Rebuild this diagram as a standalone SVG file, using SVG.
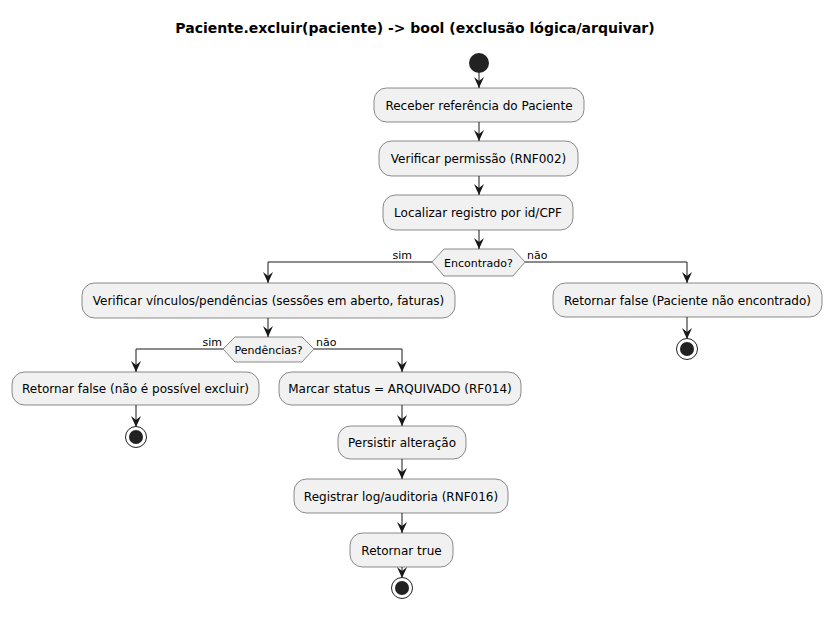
<svg xmlns="http://www.w3.org/2000/svg" width="831" height="619" viewBox="0 0 831 619">
<defs>
<style>
.box{fill:#F1F1F1;stroke:#181818;stroke-width:0.5}
.t{font-family:"DejaVu Sans",sans-serif;font-size:12px;fill:#000;text-anchor:middle}
.l{font-family:"DejaVu Sans",sans-serif;font-size:11px;fill:#000}
.ln{fill:none;stroke:#181818;stroke-width:1}
.title{font-family:"DejaVu Sans",sans-serif;font-size:14px;font-weight:bold;fill:#000;text-anchor:middle}
</style>
<marker id="arr" viewBox="0 0 11 10" refX="11" refY="5" markerWidth="11" markerHeight="10" markerUnits="userSpaceOnUse" orient="auto">
<polygon points="0,0 11,5 0,10 4,5" fill="#181818"/>
</marker>
</defs>
<rect width="831" height="619" fill="#FFFFFF"/>
<text class="title" x="415" y="33">Paciente.excluir(paciente) -&gt; bool (exclusão lógica/arquivar)</text>

<g id="connectors">
<path class="ln" d="M479,73 V88" marker-end="url(#arr)"/>
<path class="ln" d="M479,122 V141" marker-end="url(#arr)"/>
<path class="ln" d="M479,176 V195" marker-end="url(#arr)"/>
<path class="ln" d="M479,230 V249" marker-end="url(#arr)"/>
<path class="ln" d="M432,262 H268 V283" marker-end="url(#arr)"/>
<path class="ln" d="M525,262 H687 V283" marker-end="url(#arr)"/>
<path class="ln" d="M687,317 V339" marker-end="url(#arr)"/>
<path class="ln" d="M268,318 V337" marker-end="url(#arr)"/>
<path class="ln" d="M223,349 H136 V372" marker-end="url(#arr)"/>
<path class="ln" d="M314,349 H402 V372" marker-end="url(#arr)"/>
<path class="ln" d="M136,405 V427" marker-end="url(#arr)"/>
<path class="ln" d="M402,405 V426" marker-end="url(#arr)"/>
<path class="ln" d="M402,459 V479" marker-end="url(#arr)"/>
<path class="ln" d="M402,513 V533" marker-end="url(#arr)"/>
<path class="ln" d="M402,567 V578" marker-end="url(#arr)"/>
<text class="l" x="412" y="259" text-anchor="end">sim</text>
<text class="l" x="527" y="259">não</text>
<text class="l" x="222" y="346" text-anchor="end">sim</text>
<text class="l" x="316" y="346">não</text>
</g>

<g id="start"><circle cx="479" cy="63" r="10" fill="#222222"/></g>

<g id="n1"><rect class="box" x="374" y="88" width="210" height="34" rx="12.5"/><text class="t" x="479" y="109.5">Receber referência do Paciente</text></g>
<g id="n2"><rect class="box" x="379" y="141" width="199" height="35" rx="12.5"/><text class="t" x="478.5" y="163">Verificar permissão (RNF002)</text></g>
<g id="n3"><rect class="box" x="383" y="195" width="190" height="35" rx="12.5"/><text class="t" x="478" y="217">Localizar registro por id/CPF</text></g>

<g id="d1"><polygon class="box" points="444,249 513,249 525,262 513,276 444,276 432,262"/><text class="l" x="478.5" y="266.5" text-anchor="middle">Encontrado?</text></g>

<g id="n4"><rect class="box" x="82" y="283" width="373" height="35" rx="12.5"/><text class="t" x="268.5" y="305">Verificar vínculos/pendências (sessões em aberto, faturas)</text></g>
<g id="n5"><rect class="box" x="553" y="283" width="269" height="34" rx="12.5"/><text class="t" x="687.5" y="304.5">Retornar false (Paciente não encontrado)</text></g>
<g id="end1"><circle cx="687" cy="349" r="10.5" fill="#FFFFFF" stroke="#222222" stroke-width="1"/><circle cx="687" cy="349" r="7" fill="#222222"/></g>

<g id="d2"><polygon class="box" points="235,337 302,337 314,349 302,362 235,362 223,349"/><text class="l" x="268.5" y="353.5" text-anchor="middle">Pendências?</text></g>

<g id="n6"><rect class="box" x="12" y="372" width="247" height="33" rx="12.5"/><text class="t" x="135.5" y="393">Retornar false (não é possível excluir)</text></g>
<g id="end2"><circle cx="136" cy="437" r="10.5" fill="#FFFFFF" stroke="#222222" stroke-width="1"/><circle cx="136" cy="437" r="7" fill="#222222"/></g>

<g id="n7"><rect class="box" x="279" y="372" width="242" height="33" rx="12.5"/><text class="t" x="400" y="393">Marcar status = ARQUIVADO (RF014)</text></g>
<g id="n8"><rect class="box" x="338" y="426" width="128" height="33" rx="12.5"/><text class="t" x="402" y="447">Persistir alteração</text></g>
<g id="n9"><rect class="box" x="294" y="479" width="214" height="34" rx="12.5"/><text class="t" x="401" y="500.5">Registrar log/auditoria (RNF016)</text></g>
<g id="n10"><rect class="box" x="350" y="533" width="103" height="34" rx="12.5"/><text class="t" x="401.5" y="554.5">Retornar true</text></g>
<g id="end3"><circle cx="402" cy="588" r="10.5" fill="#FFFFFF" stroke="#222222" stroke-width="1"/><circle cx="402" cy="588" r="7" fill="#222222"/></g>
</svg>
